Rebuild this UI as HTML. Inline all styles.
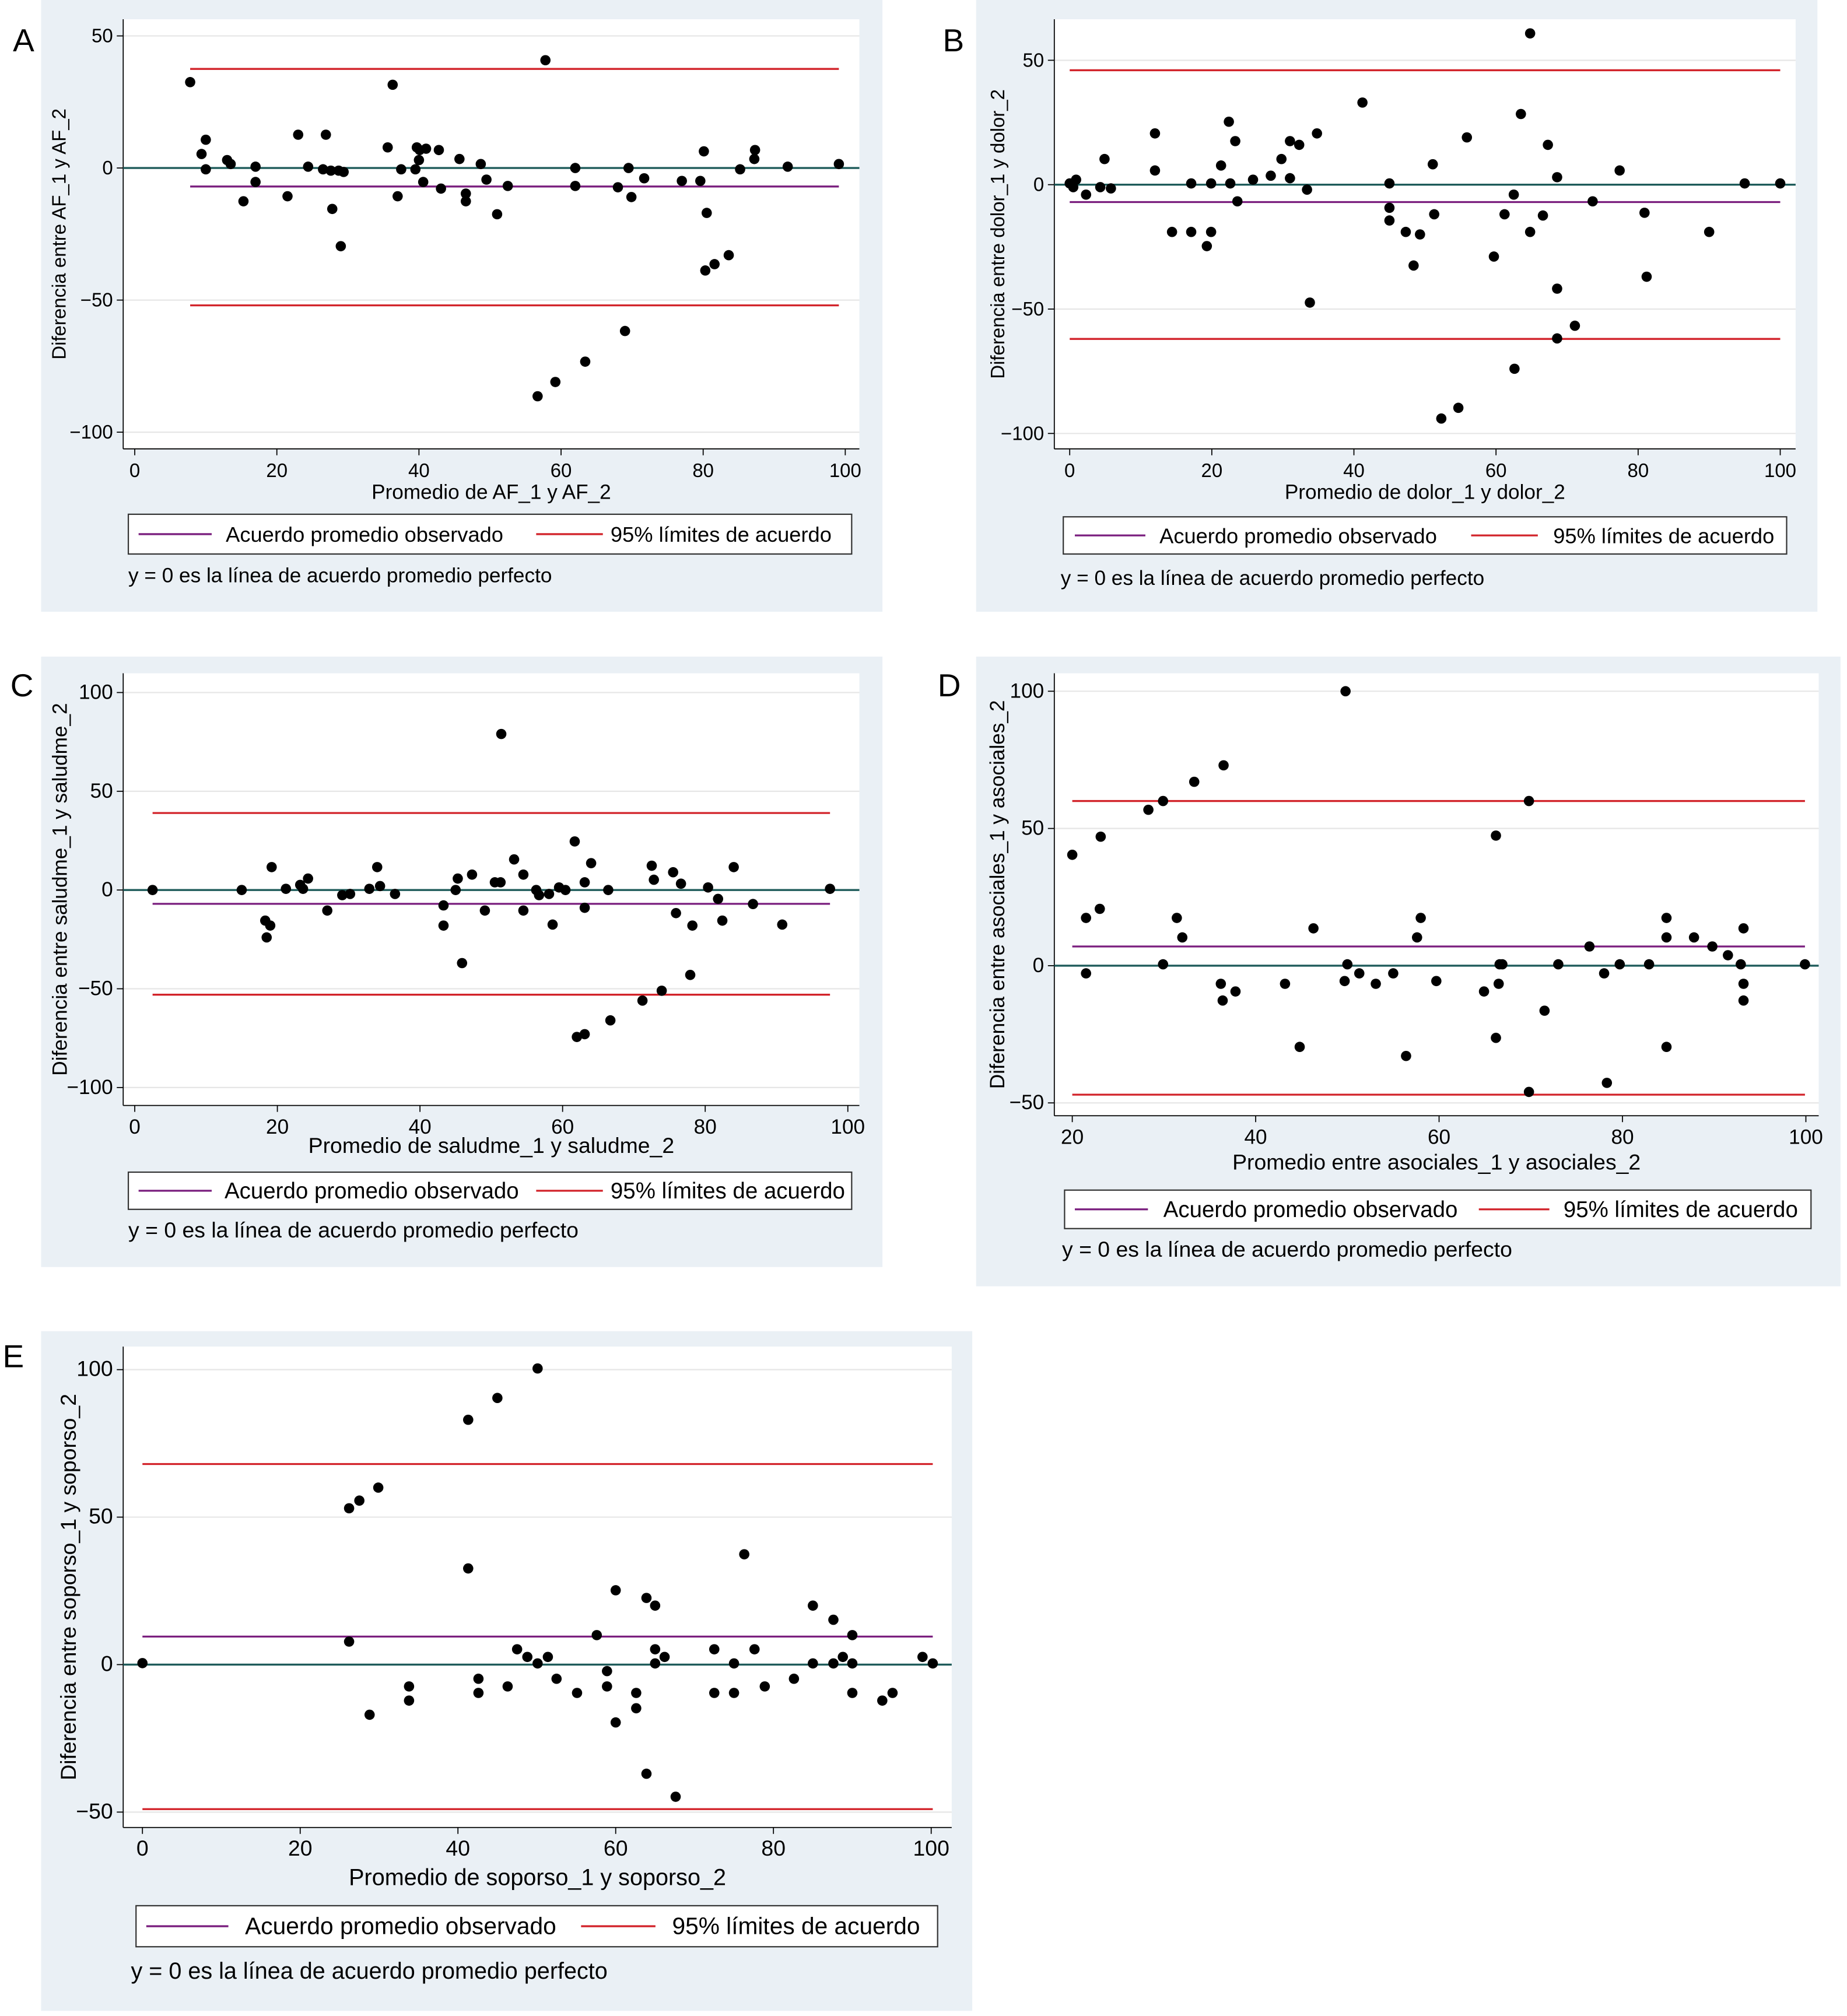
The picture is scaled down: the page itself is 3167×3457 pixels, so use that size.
<!DOCTYPE html>
<html>
<head>
<meta charset="utf-8">
<style>
html,body{margin:0;padding:0;background:#fff;}
svg{display:block;font-family:"Liberation Sans",sans-serif;}
</style>
</head>
<body>
<svg id="fig" width="3167" height="3457" viewBox="0 0 1440 1572" xmlns="http://www.w3.org/2000/svg"></svg>
<script>
// ---------- Data ----------
const aX=[7.8,9.4,10,10,13,13.5,15.3,17,17,21.5,23,24.4,26.9,26.5,27.6,27.8,28.7,29,29.4,35.6,36.3,37,37.5,39.5,39.7,40,40.1,40.6,41,42.8,43.1,45.7,46.6,46.6,48.7,49.5,51,52.5,56.7,57.8,59.2,62,62,63.4,68,69,69.5,69.9,71.7,77,79.6,80.1,80.3,80.5,81.6,83.6,85.2,87.2,87.3,91.9,99.1];
const aY=[32.5,5.3,10.7,-0.5,3,1.5,-12.6,0.5,-5.3,-10.7,12.6,0.5,12.6,-0.5,-1,-15.5,-1,-29.6,-1.5,7.8,31.5,-10.7,-0.5,-0.5,7.8,3,6.8,-5.3,7.3,6.8,-7.8,3.4,-12.6,-9.7,1.5,-4.4,-17.5,-6.8,-86.4,40.8,-81,0,-6.8,-73.3,-7.3,-61.7,0,-11,-3.9,-4.9,-4.9,6.3,-38.8,-17,-36.4,-33,-0.5,3.4,6.8,0.5,1.5];
const aStats=[-7,37.5,-52];
const bX=[0,0.5,0.9,2.3,4.3,4.9,5.8,12,12,14.4,17.1,17.1,19.3,19.9,19.9,21.3,22.4,22.6,23.3,23.6,25.8,28.3,29.8,31,31,32.3,33.4,33.8,34.8,41.2,45,45,45,47.3,48.4,49.3,51.1,51.3,52.3,54.7,55.9,59.7,61.2,62.5,62.6,63.5,64.8,64.8,66.6,67.3,68.6,68.6,68.6,71.1,73.6,77.4,80.9,81.2,90,95,100];
const bY=[0.5,-1,2,-4,-1,10.3,-1.5,20.6,5.7,-19,0.5,-19,-24.7,0.5,-19,7.7,25.3,0.5,17.5,-6.7,2,3.6,10.3,17.5,2.6,16,-2,-47.4,20.6,33,0.5,-9.3,-14.4,-19,-32.5,-20,8.2,-11.9,-94,-89.7,19,-28.9,-11.9,-4,-74,28.4,-19,60.8,-12.4,16,3,-41.8,-61.8,-56.7,-6.7,5.7,-11.3,-37,-19,0.5,0.5];
const bStats=[-7,46,-62];
const cX=[2.5,15,18.3,18.5,19,19.2,21.2,23.2,23.6,24.3,27,29.1,30.2,32.9,34,34.4,36.5,43.3,43.3,45,45.3,45.9,47.3,49.1,50.5,51.3,51.4,53.2,54.5,54.5,56.3,56.7,58.1,58.6,59.5,60.4,61.7,62,63.1,63.1,63.1,64,66.4,66.7,71.2,72.5,72.8,73.9,75.5,75.9,76.6,78.2,77.9,80.4,81.8,82.4,84,86.7,90.8,97.5];
const cY=[0,0,-15.5,-24,-18,11.6,0.6,2.6,0.6,5.8,-10.4,-2.6,-2,0.6,11.6,2,-2,-7.8,-18,0,5.8,-37,7.8,-10.4,3.9,3.9,79,15.5,7.8,-10.4,0,-2.6,-2,-17.5,1.3,0,24.6,-74.4,-73,3.9,-9,13.6,0,-66,-56,12.3,5.2,-51,9,-11.7,3.2,-18,-43,1.3,-4.5,-15.5,11.6,-7.1,-17.5,0.6];
const cStats=[-7,39,-53];
const dX=[20,21.5,21.5,23,23.1,28.3,29.9,29.9,31.4,32,33.3,36.2,36.4,36.5,37.8,43.2,44.8,46.3,49.7,49.8,50,51.3,53.1,55,56.4,57.6,58,59.7,64.9,66.2,66.2,66.5,66.6,66.9,69.8,69.8,71.5,73,76.4,78,78.3,79.7,82.9,84.8,84.8,84.8,87.8,89.8,91.5,92.9,93.2,93.2,93.2,99.9];
const dY=[40.4,17.4,-2.8,20.7,47,56.8,60,0.5,17.4,10.3,67,-6.6,-12.7,73,-9.4,-6.6,-29.6,13.6,-5.6,100,0.5,-2.8,-6.6,-2.8,-32.9,10.3,17.4,-5.6,-9.4,47.4,-26.3,-6.6,0.5,0.5,60,-46,-16.4,0.5,7,-2.8,-42.7,0.5,0.5,17.4,10.3,-29.6,10.3,7,3.8,0.5,13.6,-6.6,-12.7,0.5];
const dStats=[7,60,-47];
const eX=[0,26.2,26.2,27.5,28.8,29.9,33.8,33.8,41.3,41.3,42.6,42.6,45,46.3,47.5,48.8,50.1,50.1,51.4,52.5,55.1,57.6,58.9,58.9,60,60,62.6,62.6,63.9,63.9,65,65,65,66.2,67.6,72.5,72.5,75,75,76.3,77.6,78.9,82.6,85,85,87.6,87.6,88.8,90,90,90,93.8,95.1,98.9,100.2];
const eY=[0.5,53,7.8,55.6,-17,60,-7.4,-12.2,83,32.6,-4.8,-9.6,90.4,-7.4,5.2,2.6,100.4,0.4,2.6,-4.8,-9.6,10,-2.2,-7.4,25.2,-19.6,-9.6,-14.8,22.6,-37,20,5.2,0.4,2.6,-44.8,5.2,-9.6,0.4,-9.6,37.4,5.2,-7.4,-4.8,20,0.4,15.2,0.4,2.6,10,0.4,-9.6,-12.2,-9.6,2.6,0.4];
const eStats=[9.5,68,-49];
const abXTicks=[0,20,40,60,80,100];
const dXTicks=[20,40,60,80,100];
const abYTicks=[-100,-50,0,50];
const cYTicks=[-100,-50,0,50,100];
const deYTicks=[-50,0,50,100];

// ---------- Layout (pixel geometry, not data) ----------
const panels=[
 {id:'a',letter:'A',lx:10,ly:40,bg:[32,0,656,477],plot:[96,15,670,350],xa:[0,105,100,659],ya:[0,131,50,28],xs:aX,ys:aY,st:aStats,xt:abXTicks,yt:abYTicks,
  ytitle:'Diferencia entre AF_1 y AF_2',xtitle:'Promedio de AF_1 y AF_2',xtY:389,ytX:51,leg:[100,401,564,31],l1:[108,165,176],l2:[418,470,476],foot:[100,449],fs:15},
 {id:'b',letter:'B',lx:735,ly:40,bg:[761,0,656,477],plot:[822,15,1400,350],xa:[0,834,100,1388],ya:[0,144,50,47],xs:bX,ys:bY,st:bStats,xt:abXTicks,yt:abYTicks,
  ytitle:'Diferencia entre dolor_1 y dolor_2',xtitle:'Promedio de dolor_1 y dolor_2',xtY:389,ytX:783,leg:[829,403,564,29],l1:[838,893,904],l2:[1147,1199,1211],foot:[827,451],fs:15},
 {id:'c',letter:'C',lx:8,ly:543,bg:[32,512,656,476],plot:[96,525,670,862],xa:[0,105,100,661],ya:[0,694,50,617],xs:cX,ys:cY,st:cStats,xt:abXTicks,yt:cYTicks,
  ytitle:'Diferencia entre saludme_1 y saludme_2',xtitle:'Promedio de saludme_1 y saludme_2',xtY:899,ytX:52,leg:[100,914,564,29],l1:[108,165,175],l2:[418,470,476],foot:[100,960],fs:16},
 {id:'d',letter:'D',lx:731,ly:543,bg:[761,512,674,491],plot:[822,525,1418,870],xa:[20,836,100,1408],ya:[0,753,50,646],xs:dX,ys:dY,st:dStats,xt:dXTicks,yt:deYTicks,
  ytitle:'Diferencia entre asociales_1 y asociales_2',xtitle:'Promedio entre asociales_1 y asociales_2',xtY:912,ytX:783,leg:[830,928,582,30],l1:[838,895,907],l2:[1153,1208,1219],foot:[828,975],fs:16},
 {id:'e',letter:'E',lx:2,ly:1066,bg:[32,1038,726,530],plot:[96,1050,742,1425],xa:[0,111,100,726],ya:[0,1298,50,1183],xs:eX,ys:eY,st:eStats,xt:abXTicks,yt:deYTicks,
  ytitle:'Diferencia entre soporso_1 y soporso_2',xtitle:'Promedio de soporso_1 y soporso_2',xtY:1470,ytX:59,leg:[106,1486,625,32],l1:[114,178,191],l2:[453,511,524],foot:[102,1538],fs:17}
];

const NS='http://www.w3.org/2000/svg';
const svg=document.getElementById('fig');
function mk(tag,attrs,parent){
  const el=document.createElementNS(NS,tag);
  for(const k in attrs) el.setAttribute(k,attrs[k]);
  (parent||svg).appendChild(el);
  return el;
}
const GREEN='#1e5b5a', PURPLE='#7a1e7e', RED='#d2232a', GRID='#e6e6e6';

panels.forEach(p=>{
  const g=mk('g',{});
  
  
  const xScale=v=>p.xa[1]+(v-p.xa[0])*(p.xa[3]-p.xa[1])/(p.xa[2]-p.xa[0]);
  const yScale=v=>p.ya[1]+(v-p.ya[0])*(p.ya[3]-p.ya[1])/(p.ya[2]-p.ya[0]);
  const [px0,py0,px1,py1]=p.plot;

  const bg=mk('rect',{x:p.bg[0],y:p.bg[1],width:p.bg[2],height:p.bg[3],fill:'#eaf0f5'},g);
  
  
  const pr=mk('rect',{x:px0,y:py0,width:px1-px0,height:py1-py0,fill:'#ffffff'},g);
  
  

  const let_=mk('text',{x:p.lx,y:p.ly,'font-size':25,fill:'#000'},g);
  let_.textContent=p.letter;
  
  

  p.yt.forEach(t=>{
    const y=yScale(t);
    const gl=mk('line',{x1:px0,x2:px1,y1:y,y2:y,stroke:GRID,'stroke-width':1},g);
    
    
    const tk=mk('line',{x1:px0-5,x2:px0,y1:y,y2:y,stroke:'#000','stroke-width':0.8},g);
    
    
    const tl=mk('text',{x:px0-8,y:y+5,'font-size':p.fs,'text-anchor':'end',fill:'#000'},g);
    tl.textContent=t===0?'0':(t<0?'\u2212'+Math.abs(t):String(t));
    
    
  });
  p.xt.forEach(t=>{
    const x=xScale(t);
    const tk=mk('line',{x1:x,x2:x,y1:py1,y2:py1+5,stroke:'#000','stroke-width':0.8},g);
    
    
    const tl=mk('text',{x:x,y:py1+22,'font-size':p.fs,'text-anchor':'middle',fill:'#000'},g);
    tl.textContent=String(t);
    
    
  });
  const ax=mk('line',{x1:px0,x2:px0,y1:py0,y2:py1,stroke:'#000','stroke-width':0.8},g);
  
  
  const bx=mk('line',{x1:px0,x2:px1,y1:py1,y2:py1,stroke:'#000','stroke-width':0.8},g);
  
  

  const xt=mk('text',{x:(px0+px1)/2,y:p.xtY,'font-size':p.fs+1,'text-anchor':'middle',fill:'#000'},g);
  xt.textContent=p.xtitle;
  
  
  const cy=(py0+py1)/2;
  const yt=mk('text',{x:p.ytX,y:cy,'font-size':p.fs,'text-anchor':'middle',fill:'#000',transform:'rotate(-90 '+p.ytX+' '+cy+')'},g);
  yt.textContent=p.ytitle;
  
  

  const xmin=Math.min(...p.xs), xmax=Math.max(...p.xs);
  const zl=mk('line',{x1:px0,x2:px1,y1:yScale(0),y2:yScale(0),stroke:GREEN,'stroke-width':1.5},g);
  
  
  const ml=mk('line',{x1:xScale(xmin),x2:xScale(xmax),y1:yScale(p.st[0]),y2:yScale(p.st[0]),stroke:PURPLE,'stroke-width':1.5},g);
  
  
  const ul=mk('line',{x1:xScale(xmin),x2:xScale(xmax),y1:yScale(p.st[1]),y2:yScale(p.st[1]),stroke:RED,'stroke-width':1.5},g);
  
  
  const ll=mk('line',{x1:xScale(xmin),x2:xScale(xmax),y1:yScale(p.st[2]),y2:yScale(p.st[2]),stroke:RED,'stroke-width':1.5},g);
  
  

  p.xs.forEach((xv,i)=>{
    const c=mk('circle',{cx:xScale(xv),cy:yScale(p.ys[i]),r:4,fill:'#000'},g);
    
    
  });

  const [lx,ly,lw,lh]=p.leg;
  const lb=mk('rect',{x:lx,y:ly,width:lw,height:lh,fill:'#fff',stroke:'#333','stroke-width':1},g);
  
  
  const my=ly+lh/2;
  const s1=mk('line',{x1:p.l1[0],x2:p.l1[1],y1:my,y2:my,stroke:PURPLE,'stroke-width':1.5},g);
  
  
  const t1=mk('text',{x:p.l1[2],y:my+6,'font-size':p.fs+1.5,fill:'#000'},g);
  t1.textContent='Acuerdo promedio observado';
  
  
  const s2=mk('line',{x1:p.l2[0],x2:p.l2[1],y1:my,y2:my,stroke:RED,'stroke-width':1.5},g);
  
  
  const t2=mk('text',{x:p.l2[2],y:my+6,'font-size':p.fs+1.5,fill:'#000'},g);
  t2.textContent='95% límites de acuerdo';
  
  
  const ft=mk('text',{x:p.foot[0],y:p.foot[1]+5,'font-size':p.fs+1,fill:'#000'},g);
  ft.textContent='y = 0 es la línea de acuerdo promedio perfecto';
  
  
});
</script>
</body>
</html>
